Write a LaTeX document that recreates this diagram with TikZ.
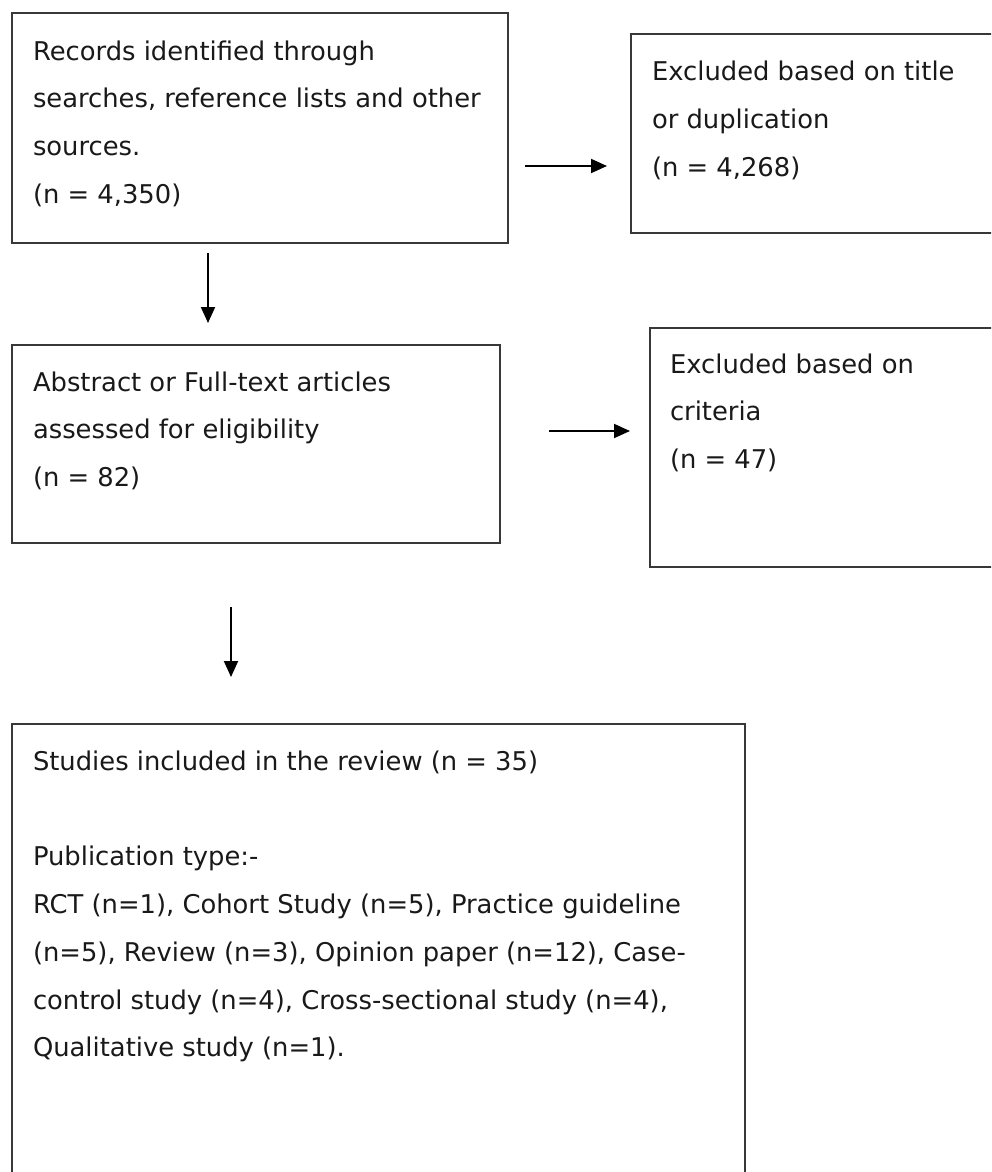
\documentclass[tikz,border=0pt]{standalone}
\usepackage{fontspec}
\setmainfont{DejaVu Sans}
\usetikzlibrary{arrows.meta}
\newcommand{\boxtext}[1]{\parbox[t]{720pt}{\fontsize{25.8}{47.8}\selectfont\raggedright #1}}
\begin{document}
\begin{tikzpicture}[x=1pt,y=-1pt,
  box/.style={draw=black!78, line width=1.7pt, inner sep=0pt, outer sep=0pt},
  txt/.style={anchor=base west, inner sep=0pt, outer sep=0pt, text=black!90},
  arr/.style={draw=black, line width=1.9pt, -{Triangle[length=16pt,width=14pt]}}]
\useasboundingbox (0,0) rectangle (991,1172);
\begin{scope}
\clip (0,0) rectangle (991,1172);
\fill[white] (0,0) rectangle (991,1172);
% boxes
\node[box, minimum width=496pt, minimum height=230pt] (rec) at (260,128) {};
\node[box, minimum width=374pt, minimum height=199pt] (ex1) at (818,133.5) {};
\node[box, minimum width=488pt, minimum height=198pt] (abs) at (256,444) {};
\node[box, minimum width=360pt, minimum height=239pt] (ex2) at (830,447.5) {};
\node[box, minimum width=733pt, minimum height=466pt] (inc) at (378.5,957) {};
% texts
\node[txt] (t1) at (33,60) {\boxtext{Records identified through\\searches, reference lists and other\\sources.\\(n = 4,350)}};
\node[txt] (t2) at (652,81) {\boxtext{Excluded based on title\\or duplication\\(n = 4,268)}};
\node[txt] (t3) at (33,391) {\boxtext{Abstract or Full-text articles\\assessed for eligibility\\(n = 82)}};
\node[txt] (t4) at (670,373) {\boxtext{Excluded based on\\criteria\\(n = 47)}};
\node[txt] (t5) at (33,770) {\boxtext{Studies included in the review (n = 35)\\[47.8pt]Publication type:-\\RCT (n=1), Cohort Study (n=5), Practice guideline\\(n=5), Review (n=3), Opinion paper (n=12), Case-\\control study (n=4), Cross-sectional study (n=4),\\Qualitative study (n=1).}};
% arrows
\draw[arr, shorten <=17pt, shorten >=24pt] ([yshift=-38pt]rec.east) -- ([yshift=-38pt]rec.east -| ex1.west);
\draw[arr, shorten <=10pt, shorten >=22pt] ([xshift=-52pt]rec.south) -- ([xshift=-52pt]rec.south |- abs.north);
\draw[arr, shorten <=49pt, shorten >=20pt] ([yshift=13pt]abs.east) -- ([yshift=13pt]abs.east -| ex2.west);
\draw[arr, shorten <=64pt, shorten >=47pt] ([xshift=-25pt]abs.south) -- ([xshift=-25pt]abs.south |- inc.north);
\end{scope}
\end{tikzpicture}
\end{document}
